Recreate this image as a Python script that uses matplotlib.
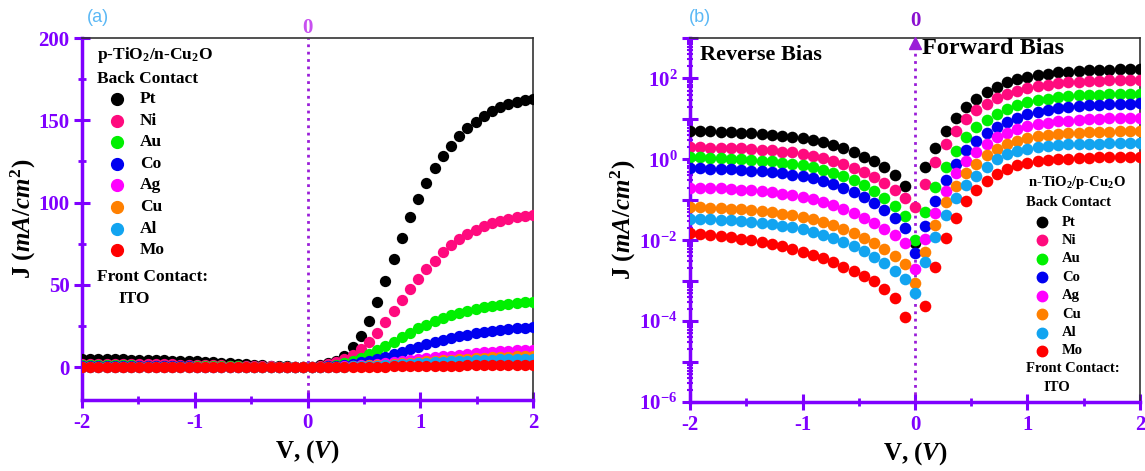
import numpy as np
import matplotlib.pyplot as plt
from matplotlib.ticker import FixedLocator, MultipleLocator, LogLocator, FuncFormatter, NullFormatter
import matplotlib.transforms as mtrans

plt.rcParams['font.family'] = 'Liberation Serif'
plt.rcParams['font.weight'] = 'bold'
plt.rcParams['axes.labelweight'] = 'bold'
plt.rcParams['axes.unicode_minus'] = False
plt.rcParams['mathtext.fontset'] = 'custom'
plt.rcParams['mathtext.rm'] = 'Liberation Serif:bold'
plt.rcParams['mathtext.it'] = 'Liberation Serif:italic:bold'
plt.rcParams['mathtext.bf'] = 'Liberation Serif:bold'

# ---------------- data ----------------
metals = ['Pt', 'Ni', 'Au', 'Co', 'Ag', 'Cu', 'Al', 'Mo']
colors = ['#000000', '#FF0A7E', '#00F000', '#0000F0', '#FF00FF', '#FF8000', '#12A4F0', '#FF0000']

# (a) p-TiO2/n-Cu2O, linear J (mA/cm2), 56 voltage points
V_a = [-2.000, -1.927, -1.855, -1.782, -1.709, -1.636, -1.564, -1.491, -1.418, -1.345,
       -1.273, -1.200, -1.127, -1.055, -0.982, -0.909, -0.836, -0.764, -0.691, -0.618,
       -0.545, -0.473, -0.400, -0.327, -0.255, -0.182, -0.109, -0.036,
       0.036, 0.109, 0.182, 0.255, 0.327, 0.400, 0.473, 0.545, 0.618, 0.691,
       0.764, 0.836, 0.909, 0.982, 1.055, 1.127, 1.200, 1.273, 1.345, 1.418,
       1.491, 1.564, 1.636, 1.709, 1.782, 1.855, 1.927, 2.000]

J_a_Pt = [5.0, 5.0, 4.9, 4.9, 4.8, 4.7, 4.6, 4.5, 4.4, 4.3, 4.1, 4.0, 3.8, 3.6, 3.4, 3.2,
          3.0, 2.7, 2.4, 2.1, 1.8, 1.5, 1.2, 0.9, 0.7, 0.5, 0.3, 0.1,
          0.3, 1.0, 2.2, 4.0, 7.0, 12.0, 19.0, 28.0, 39.5, 52.5, 65.5, 78.5, 91.4, 101.9,
          111.7, 120.8, 128.1, 134.5, 140.4, 145.1, 149.1, 152.8, 155.8, 157.9, 159.7,
          160.9, 162.3, 163.0]
J_a_Ni = [2.0, 2.0, 2.0, 1.9, 1.9, 1.9, 1.8, 1.8, 1.7, 1.7, 1.6, 1.6, 1.5, 1.4, 1.3, 1.2,
          1.1, 1.0, 0.9, 0.8, 0.7, 0.6, 0.5, 0.4, 0.3, 0.2, 0.15, 0.05,
          0.2, 0.7, 1.6, 3.0, 5.0, 7.6, 11.0, 15.5, 21.0, 27.5, 34.0, 40.7, 47.2, 53.3,
          59.4, 64.6, 69.7, 74.2, 77.8, 80.9, 83.3, 85.5, 87.3, 88.8, 90.0, 91.0, 91.7, 92.2]
J_a_Au = [1.1, 1.1, 1.1, 1.1, 1.0, 1.0, 1.0, 0.95, 0.9, 0.9, 0.85, 0.8, 0.75, 0.7, 0.65,
          0.6, 0.55, 0.5, 0.45, 0.4, 0.35, 0.3, 0.25, 0.2, 0.15, 0.1, 0.05, 0.02,
          0.1, 0.3, 0.7, 1.4, 2.4, 3.8, 5.6, 7.8, 10.2, 12.8, 15.5, 18.3, 21.0, 23.5,
          25.8, 27.9, 29.8, 31.5, 33.0, 34.3, 35.4, 36.4, 37.2, 37.9, 38.5, 39.0, 39.4, 39.7]
J_a_Co = [0.6, 0.6, 0.6, 0.58, 0.56, 0.55, 0.53, 0.51, 0.49, 0.47, 0.45, 0.42, 0.4, 0.37,
          0.34, 0.31, 0.28, 0.25, 0.22, 0.19, 0.16, 0.13, 0.1, 0.08, 0.06, 0.04, 0.02, 0.01,
          0.05, 0.15, 0.4, 0.8, 1.3, 2.0, 2.9, 3.9, 5.1, 6.4, 7.8, 9.3, 10.8, 12.3,
          13.8, 15.2, 16.5, 17.7, 18.8, 19.8, 20.7, 21.5, 22.2, 22.8, 23.3, 23.7, 24.0, 24.2]
J_a_Ag = [0.2, 0.2, 0.2, 0.19, 0.19, 0.18, 0.18, 0.17, 0.16, 0.16, 0.15, 0.14, 0.13, 0.12,
          0.11, 0.1, 0.09, 0.08, 0.07, 0.06, 0.05, 0.04, 0.03, 0.025, 0.02, 0.01, 0.005, 0.002,
          0.02, 0.06, 0.15, 0.3, 0.5, 0.8, 1.1, 1.5, 1.9, 2.4, 2.9, 3.5, 4.1, 4.7,
          5.3, 5.9, 6.5, 7.0, 7.5, 8.0, 8.5, 8.9, 9.3, 9.6, 9.9, 10.2, 10.4, 10.6]
J_a_Cu = [0.07, 0.07, 0.07, 0.07, 0.068, 0.066, 0.064, 0.062, 0.06, 0.057, 0.054, 0.051,
          0.048, 0.045, 0.042, 0.038, 0.034, 0.03, 0.026, 0.022, 0.018, 0.014, 0.011, 0.008,
          0.006, 0.004, 0.002, 0.001,
          0.01, 0.04, 0.1, 0.2, 0.33, 0.5, 0.7, 1.0, 1.25, 1.55, 1.9, 2.3, 2.7, 3.1,
          3.5, 3.9, 4.3, 4.6, 4.9, 5.2, 5.5, 5.8, 6.0, 6.2, 6.4, 6.6, 6.7, 6.8]
J_a_Al = [0.034, 0.034, 0.033, 0.033, 0.032, 0.031, 0.03, 0.029, 0.028, 0.026, 0.025, 0.023,
          0.021, 0.019, 0.017, 0.015, 0.013, 0.011, 0.009, 0.007, 0.006, 0.005, 0.004, 0.003,
          0.002, 0.0015, 0.001, 0.0005,
          0.01, 0.03, 0.08, 0.15, 0.25, 0.38, 0.53, 0.75, 0.95, 1.2, 1.45, 1.75, 2.05, 2.35,
          2.65, 2.95, 3.25, 3.5, 3.75, 3.95, 4.15, 4.35, 4.5, 4.65, 4.8, 4.9, 5.0, 5.1]
J_a_Mo = [0.015, 0.014, 0.014, 0.013, 0.012, 0.012, 0.011, 0.01, 0.0095, 0.009, 0.008, 0.0075,
          0.007, 0.006, 0.0055, 0.005, 0.004, 0.0035, 0.003, 0.0025, 0.002, 0.0015, 0.001,
          0.0008, 0.0005, 0.0003, 0.0002, 0.0001,
          0.0, 0.01, 0.02, 0.04, 0.07, 0.1, 0.14, 0.19, 0.25, 0.31, 0.38, 0.45, 0.52, 0.6,
          0.67, 0.74, 0.81, 0.88, 0.94, 1.0, 1.05, 1.1, 1.15, 1.19, 1.23, 1.26, 1.29, 1.31]

# (b) n-TiO2/p-Cu2O, log10 of J (mA/cm2), 45 voltage points
V_b = [-2.000, -1.909, -1.818, -1.727, -1.636, -1.545, -1.455, -1.364, -1.273, -1.182,
       -1.091, -1.000, -0.909, -0.818, -0.727, -0.636, -0.545, -0.455, -0.364, -0.273,
       -0.182, -0.091, 0.000, 0.091, 0.182, 0.273, 0.364, 0.455, 0.545, 0.636, 0.727,
       0.818, 0.909, 1.000, 1.091, 1.182, 1.273, 1.364, 1.455, 1.545, 1.636, 1.727,
       1.818, 1.909, 2.000]

logJ_b_Pt = [0.70, 0.69, 0.69, 0.68, 0.67, 0.66, 0.64, 0.63, 0.61, 0.58, 0.56, 0.53, 0.49,
             0.44, 0.36, 0.28, 0.19, 0.07, -0.04, -0.18, -0.38, -0.67,
             -2.06,
             -0.20, 0.28, 0.70, 1.02, 1.29, 1.50, 1.67, 1.80, 1.90, 1.98, 2.04, 2.09, 2.12,
             2.15, 2.17, 2.19, 2.20, 2.21, 2.22, 2.23, 2.235, 2.24]
logJ_b_Ni = [0.30, 0.30, 0.29, 0.29, 0.28, 0.27, 0.25, 0.24, 0.22, 0.19, 0.17, 0.13, 0.09,
             0.04, -0.03, -0.11, -0.21, -0.32, -0.44, -0.58, -0.75, -0.96,
             -1.17,
             -0.61, -0.07, 0.39, 0.71, 1.00, 1.21, 1.38, 1.52, 1.62, 1.70, 1.76, 1.81, 1.85,
             1.88, 1.90, 1.92, 1.93, 1.94, 1.95, 1.96, 1.965, 1.97]
logJ_b_Au = [0.05, 0.05, 0.04, 0.03, 0.02, 0.01, -0.01, -0.03, -0.05, -0.08, -0.11, -0.15,
             -0.20, -0.26, -0.33, -0.42, -0.52, -0.64, -0.78, -0.95, -1.15, -1.40,
             -2.00,
             -1.29, -0.69, -0.18, 0.20, 0.55, 0.79, 0.98, 1.13, 1.25, 1.34, 1.41, 1.46, 1.50,
             1.53, 1.56, 1.58, 1.59, 1.60, 1.61, 1.615, 1.62, 1.62]
logJ_b_Co = [-0.22, -0.22, -0.23, -0.24, -0.25, -0.26, -0.28, -0.30, -0.32, -0.35, -0.38,
             -0.42, -0.47, -0.53, -0.61, -0.70, -0.81, -0.94, -1.08, -1.25, -1.45, -1.69,
             -2.32,
             -1.64, -1.02, -0.50, -0.11, 0.22, 0.46, 0.65, 0.81, 0.93, 1.03, 1.11, 1.17, 1.22,
             1.26, 1.29, 1.32, 1.34, 1.35, 1.36, 1.37, 1.38, 1.39]
logJ_b_Ag = [-0.70, -0.70, -0.71, -0.72, -0.73, -0.75, -0.77, -0.79, -0.82, -0.85, -0.89,
             -0.94, -0.99, -1.06, -1.14, -1.23, -1.33, -1.45, -1.58, -1.72, -1.88, -2.06,
             -2.72,
             -1.97, -1.33, -0.79, -0.34, -0.05, 0.18, 0.38, 0.54, 0.66, 0.75, 0.82, 0.87, 0.91,
             0.94, 0.96, 0.98, 0.99, 1.00, 1.01, 1.015, 1.02, 1.02]
logJ_b_Cu = [-1.19, -1.19, -1.20, -1.21, -1.22, -1.24, -1.26, -1.28, -1.31, -1.34, -1.38,
             -1.43, -1.48, -1.55, -1.63, -1.72, -1.82, -1.94, -2.07, -2.22, -2.39, -2.58,
             -3.05,
             -2.29, -1.62, -1.06, -0.67, -0.34, -0.11, 0.10, 0.26, 0.37, 0.46, 0.52, 0.57, 0.61,
             0.63, 0.65, 0.66, 0.67, 0.68, 0.685, 0.69, 0.69, 0.69]
logJ_b_Al = [-1.47, -1.47, -1.48, -1.49, -1.50, -1.52, -1.54, -1.57, -1.60, -1.64, -1.68,
             -1.73, -1.79, -1.86, -1.94, -2.04, -2.15, -2.27, -2.41, -2.57, -2.75, -2.96,
             -3.30,
             -2.55, -1.91, -1.37, -0.96, -0.63, -0.41, -0.18, 0.01, 0.12, 0.20, 0.26, 0.30, 0.33,
             0.35, 0.37, 0.38, 0.39, 0.39, 0.40, 0.40, 0.40, 0.40]
logJ_b_Mo = [-1.83, -1.85, -1.87, -1.90, -1.93, -1.96, -2.00, -2.04, -2.09, -2.15, -2.21,
             -2.29, -2.36, -2.44, -2.55, -2.65, -2.76, -2.88, -3.02, -3.21, -3.43, -3.90,
             np.nan,
             -3.62, -2.65, -1.95, -1.45, -1.04, -0.75, -0.53, -0.36, -0.24, -0.15, -0.09, -0.05,
             -0.02, 0.00, 0.02, 0.03, 0.04, 0.05, 0.05, 0.06, 0.06, 0.06]

series_a = [J_a_Pt, J_a_Ni, J_a_Au, J_a_Co, J_a_Ag, J_a_Cu, J_a_Al, J_a_Mo]
series_b = [logJ_b_Pt, logJ_b_Ni, logJ_b_Au, logJ_b_Co, logJ_b_Ag, logJ_b_Cu, logJ_b_Al, logJ_b_Mo]

PURPLE = '#7F00FF'
DOT = '#9A1ED8'

fig = plt.figure(figsize=(11.45, 4.71), dpi=100)
axA = fig.add_axes([82 / 1145, 71 / 471, 451 / 1145, 362 / 471])
axB = fig.add_axes([690 / 1145, 69 / 471, 450 / 1145, 364 / 471])


def style_axes(ax):
    for s in ['left', 'bottom']:
        ax.spines[s].set_color(PURPLE)
        ax.spines[s].set_linewidth(2.5)
    for s in ['top', 'right']:
        ax.spines[s].set_color('#333333')
        ax.spines[s].set_linewidth(1.2)
    ax.tick_params(which='major', direction='inout', length=11, width=2.2, color=PURPLE,
                   labelcolor=PURPLE, labelsize=15, top=False, right=False)
    ax.tick_params(which='minor', direction='inout', length=6, width=2, color=PURPLE,
                   top=False, right=False)
    ax.set_xlim(-2, 2)
    ax.xaxis.set_major_locator(MultipleLocator(1))
    ax.xaxis.set_minor_locator(MultipleLocator(0.5))
    ax.set_xlabel('V, $(V)$', fontsize=18, labelpad=4)


# ---------- panel (a) ----------
for J, c in zip(series_a, colors):
    axA.scatter(V_a, J, s=66, color=c, linewidths=0, zorder=3)
axA.set_ylim(-20, 200)
axA.yaxis.set_major_locator(MultipleLocator(50))
axA.yaxis.set_minor_locator(MultipleLocator(25))
style_axes(axA)
axA.set_ylabel('J $(mA/cm^2)$', fontsize=18, labelpad=0)
axA.axvline(0, color=DOT, ls=':', lw=2, zorder=2)
trA = mtrans.blended_transform_factory(axA.transData, axA.transAxes)
axA.text(0, 1.0, '0', transform=trA, ha='center', va='bottom', color='#C850F0', fontsize=15)

axA.text(0.162, 0.953, 'p-TiO$_2$/n-Cu$_2$O', transform=axA.transAxes, ha='center',
         va='center', fontsize=12.5)
axA.text(0.033, 0.887, 'Back Contact', transform=axA.transAxes, ha='left', va='center',
         fontsize=12.5)
for i, (m, c) in enumerate(zip(metals, colors)):
    y = 0.8315 - i * 0.0597
    axA.plot(0.0776, y, 'o', ms=8.5, color=c, mec=c, transform=axA.transAxes, clip_on=False)
    axA.text(0.1286, y, m, transform=axA.transAxes, ha='left', va='center', fontsize=12.5)
axA.text(0.033, 0.340, 'Front Contact:', transform=axA.transAxes, ha='left', va='center',
         fontsize=12.5)
axA.text(0.115, 0.279, 'ITO', transform=axA.transAxes, ha='center', va='center', fontsize=12.5)

# ---------- panel (b) ----------
for L, c in zip(series_b, colors):
    axB.scatter(V_b, 10 ** np.array(L), s=70, color=c, linewidths=0, zorder=3)
axB.set_yscale('log')
axB.set_ylim(1e-6, 1e3)
axB.yaxis.set_major_locator(FixedLocator([10.0 ** k for k in range(-6, 4)]))
axB.yaxis.set_minor_locator(LogLocator(base=10, subs=np.arange(2, 10), numticks=20))
axB.yaxis.set_minor_formatter(NullFormatter())


def log_fmt(v, pos):
    e = int(round(np.log10(v)))
    if e % 2 == 0 and e <= 2:
        return '$10^{%d}$' % e
    return ''


axB.yaxis.set_major_formatter(FuncFormatter(log_fmt))
style_axes(axB)
axB.tick_params(axis='y', which='minor', length=5, width=1.5)
axB.set_ylabel('J $(mA/cm^2)$', fontsize=18, labelpad=1)
axB.axvline(0, color=DOT, ls=':', lw=2, zorder=2)
trB = mtrans.blended_transform_factory(axB.transData, axB.transAxes)
axB.plot(0, 0.985, marker='^', ms=8, color=DOT, transform=trB, clip_on=False, zorder=4)
axB.text(0, 1.02, '0', transform=trB, ha='center', va='bottom', color='#8A10D0', fontsize=15)
axB.text(0.022, 0.953, 'Reverse Bias', transform=axB.transAxes, ha='left', va='center',
         fontsize=16)
axB.text(0.516, 0.9725, 'Forward Bias', transform=axB.transAxes, ha='left', va='center',
         fontsize=17.5)

axB.text(0.86, 0.602, 'n-TiO$_2$/p-Cu$_2$O', transform=axB.transAxes, ha='center',
         va='center', fontsize=10.5)
axB.text(0.747, 0.547, 'Back Contact', transform=axB.transAxes, ha='left', va='center',
         fontsize=10.5)
for i, (m, c) in enumerate(zip(metals, colors)):
    y = 0.4945 - i * 0.0506
    axB.plot(0.782, y, 'o', ms=7.5, color=c, mec=c, transform=axB.transAxes, clip_on=False)
    axB.text(0.827, y, m, transform=axB.transAxes, ha='left', va='center', fontsize=10.5)
axB.text(0.747, 0.091, 'Front Contact:', transform=axB.transAxes, ha='left', va='center',
         fontsize=10.5)
axB.text(0.816, 0.0385, 'ITO', transform=axB.transAxes, ha='center', va='center', fontsize=10.5)

fig.text(98 / 1145, 1 - 18 / 471, '(a)', family='Liberation Sans', fontweight='normal',
         color='#5BB8F5', fontsize=13, ha='center', va='center')
fig.text(700 / 1145, 1 - 18 / 471, '(b)', family='Liberation Sans', fontweight='normal',
         color='#5BB8F5', fontsize=13, ha='center', va='center')

fig.savefig('out.png', dpi=100)
